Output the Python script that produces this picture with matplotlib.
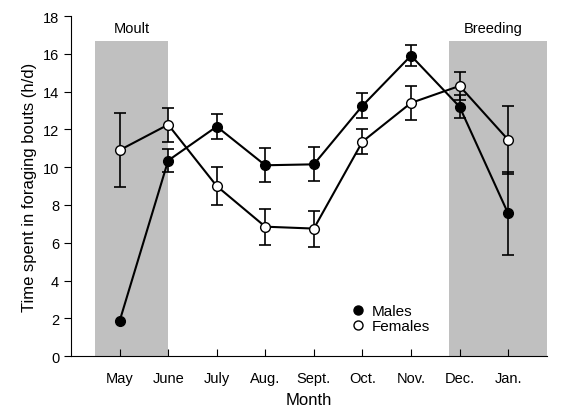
import matplotlib.pyplot as plt
from matplotlib.lines import Line2D
import numpy as np

plt.rcParams['font.family'] = ['Liberation Sans', 'DejaVu Sans']

# Data
months = ['May', 'June', 'July', 'Aug.', 'Sept.', 'Oct.', 'Nov.', 'Dec.', 'Jan.']
males = [1.85, 10.35, 12.15, 10.1, 10.15, 13.25, 15.9, 13.2, 7.55]
males_err = [np.nan, 0.6, 0.65, 0.9, 0.9, 0.65, 0.55, 0.6, 2.2]
females = [10.9, 12.25, 9.0, 6.85, 6.75, 11.35, 13.4, 14.3, 11.45]
females_err = [1.95, 0.9, 1.0, 0.95, 0.95, 0.65, 0.9, 0.75, 1.8]

x = np.arange(1, len(months) + 1)

fig = plt.figure(figsize=(5.61, 4.10), dpi=100)
ax = fig.add_axes([0.1266, 0.129, 0.8484, 0.8295])

# shaded periods
ax.fill_between([0.5, 2.0], 0, 16.7, color='#c0c0c0', lw=0, zorder=0)
ax.fill_between([7.78, 9.8], 0, 16.7, color='#c0c0c0', lw=0, zorder=0)
ax.text(1.25, 17.0, 'Moult', ha='center', va='bottom', fontsize=10.5)
ax.text(8.7, 17.0, 'Breeding', ha='center', va='bottom', fontsize=10.5)

ax.errorbar(x, males, yerr=males_err, color='black', lw=1.5, capsize=4,
            elinewidth=1.2, capthick=1.2, marker='o', ms=7, mfc='black',
            mec='black', zorder=3)
ax.errorbar(x, females, yerr=females_err, color='black', lw=1.5, capsize=4,
            elinewidth=1.2, capthick=1.2, marker='o', ms=7, mfc='white',
            mec='black', zorder=4)

ax.set_xlim(0, 9.8)
ax.set_ylim(0, 18)
ax.set_yticks(range(0, 19, 2))
ax.set_xticks(x)
ax.set_xticklabels(months)
ax.tick_params(axis='x', direction='in', length=5, labelsize=10.5, pad=11)
ax.tick_params(axis='y', direction='out', length=5, labelsize=10.5)
ax.spines['top'].set_visible(False)
ax.spines['right'].set_visible(False)
ax.set_xlabel('Month', fontsize=12, labelpad=5)
ax.set_ylabel('Time spent in foraging bouts (h/d)', fontsize=12)

handles = [
    Line2D([], [], ls='none', marker='o', ms=6.5, mfc='black', mec='black'),
    Line2D([], [], ls='none', marker='o', ms=6.5, mfc='white', mec='black'),
]
ax.legend(handles, ['Males', 'Females'], loc='lower left',
          bbox_to_anchor=(0.575, 0.045), frameon=False, fontsize=11,
          handlelength=0.8, handletextpad=0.5, labelspacing=0.05, borderpad=0)

plt.savefig('out.png', dpi=100)
